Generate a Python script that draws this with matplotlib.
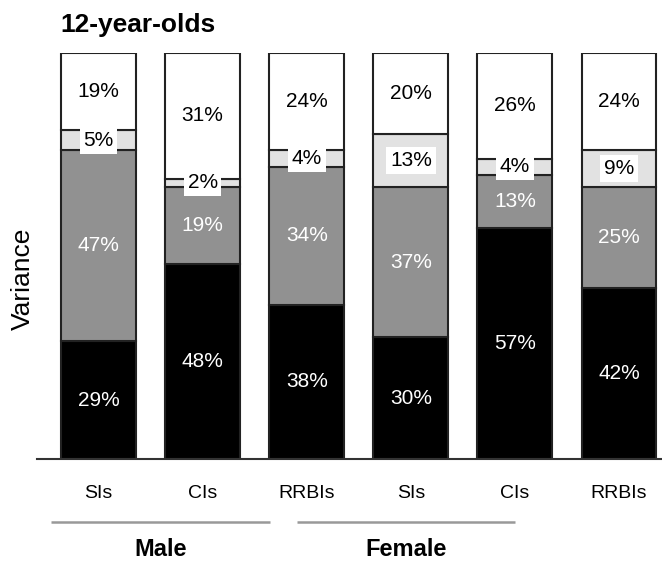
import matplotlib
matplotlib.use("Agg")
import matplotlib.pyplot as plt
from matplotlib import font_manager

names = {f.name for f in font_manager.fontManager.ttflist}
narrow = 'Liberation Sans Narrow' if 'Liberation Sans Narrow' in names else 'Liberation Sans'
plt.rcParams['font.family'] = ['Liberation Sans', 'DejaVu Sans']

# data
categories = ['SIs', 'CIs', 'RRBIs', 'SIs', 'CIs', 'RRBIs']
groups = ['Male', 'Female']
black_part = [29, 48, 38, 30, 57, 42]
gray_part = [47, 19, 34, 37, 13, 25]
light_part = [5, 2, 4, 13, 4, 9]
white_part = [19, 31, 24, 20, 26, 24]

layers = [black_part, gray_part, light_part, white_part]
colors = ['#000000', '#919191', '#e2e2e2', '#ffffff']
text_colors = ['white', 'white', 'black', 'black']

fig = plt.figure(figsize=(6.62, 5.61), dpi=100)
ax = fig.add_axes([37 / 662, 102 / 561, 625 / 662, 406 / 561])

x = list(range(len(categories)))
bottom = [0] * len(categories)
for k, vals in enumerate(layers):
    ax.bar(x, vals, width=0.72, bottom=bottom, color=colors[k],
           edgecolor='#222222', linewidth=1.5, zorder=2)
    for i, v in enumerate(vals):
        yc = bottom[i] + v / 2
        if k == 2:
            # small segments get a white box behind the label
            ax.text(i, yc, f'{v}%', ha='center', va='center', fontsize=15,
                    color='black', zorder=4,
                    bbox=dict(boxstyle='square,pad=0.18', fc='white', ec='none'))
        else:
            ax.text(i, yc, f'{v}%', ha='center', va='center', fontsize=15,
                    color=text_colors[k], zorder=4)
    bottom = [b + v for b, v in zip(bottom, vals)]

ax.set_xlim(-0.591, 5.413)
ax.set_ylim(0, 100)
ax.set_yticks([])
ax.set_xticks(x)
ax.set_xticklabels(categories, fontsize=14, family=[narrow, 'DejaVu Sans'])
ax.tick_params(axis='x', length=0, pad=19)
for s in ['top', 'right', 'left']:
    ax.spines[s].set_visible(False)
ax.spines['bottom'].set_color('#333333')
ax.spines['bottom'].set_linewidth(1.5)

# group brackets
group_spans = [(-0.46, 1.65), (1.91, 4.0)]
for (x0, x1), name in zip(group_spans, groups):
    ax.plot([x0, x1], [-15.5, -15.5], color='#999999', lw=1.8,
            clip_on=False, solid_capstyle='butt')
    ax.text((x0 + x1) / 2, -22.3, name, ha='center', va='center',
            fontsize=17, fontweight='bold', family=[narrow, 'DejaVu Sans'])

fig.text(60 / 662, 1 - 32 / 561, '12-year-olds', fontsize=19,
         fontweight='bold', ha='left', va='baseline')
fig.text(23 / 662, 1 - 279 / 561, 'Variance', fontsize=19, rotation=90,
         ha='center', va='center')

fig.savefig('out.png', dpi=100)
